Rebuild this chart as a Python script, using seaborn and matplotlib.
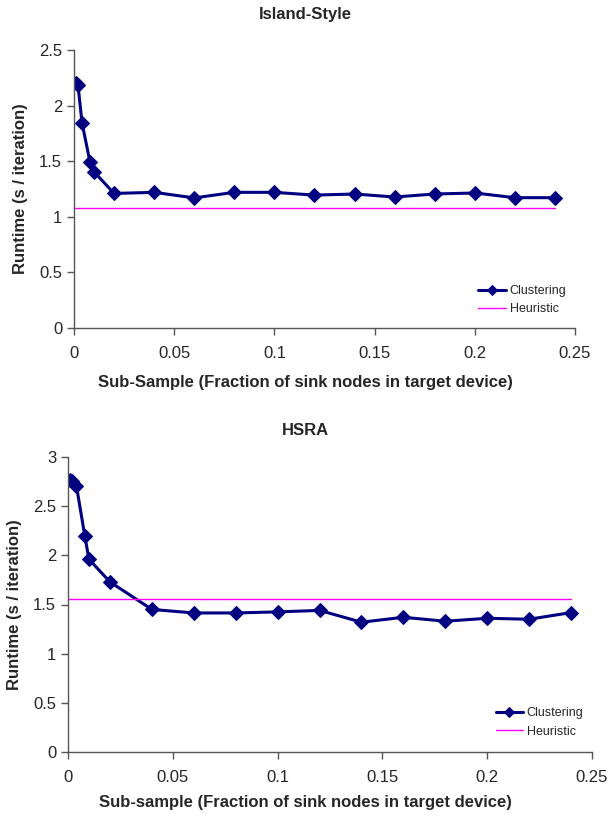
import numpy as np
import pandas as pd
import matplotlib
matplotlib.use("Agg")
import matplotlib.pyplot as plt
import seaborn as sns

sns.set_style("ticks")
plt.rcParams["font.family"] = ["Liberation Sans", "DejaVu Sans"]

# Island-Style data
island_x = [0.001, 0.002, 0.004, 0.008, 0.01, 0.02, 0.04, 0.06, 0.08, 0.10,
            0.12, 0.14, 0.16, 0.18, 0.20, 0.22, 0.24]
island_y = [2.20, 2.185, 1.845, 1.49, 1.405, 1.21, 1.22, 1.17, 1.22, 1.22,
            1.195, 1.205, 1.178, 1.205, 1.214, 1.172, 1.172]
island_heur = 1.082

# HSRA data
hsra_x = [0.001, 0.002, 0.004, 0.008, 0.01, 0.02, 0.04, 0.06, 0.08, 0.10,
          0.12, 0.14, 0.16, 0.18, 0.20, 0.22, 0.24]
hsra_y = [2.77, 2.76, 2.71, 2.20, 1.96, 1.73, 1.45, 1.414, 1.414, 1.425,
          1.44, 1.32, 1.37, 1.33, 1.36, 1.35, 1.418]
hsra_heur = 1.56

heur_x = [0.0, 0.24]

navy = "#000080"
magenta = "#FF00FF"

fig = plt.figure(figsize=(6.11, 8.18), dpi=100)
W, H = 611, 818

def add_ax(left, right, top, bottom):
    return fig.add_axes([left / W, 1 - bottom / H, (right - left) / W, (bottom - top) / H])

ax1 = add_ax(74, 575, 50, 328)
ax2 = add_ax(68, 592, 457, 752)

panels = [
    (ax1, island_x, island_y, island_heur, 2.5, 0.5,
     "Island-Style", "Sub-Sample (Fraction of sink nodes in target device)", 14, 383, (0.895, 0.10)),
    (ax2, hsra_x, hsra_y, hsra_heur, 3.0, 0.5,
     "HSRA", "Sub-sample (Fraction of sink nodes in target device)", 431, 803, (0.90, 0.10)),
]

for ax, xs, ys, heur, ymax, ystep, title, xlabel, ty, xy, lpos in panels:
    df = pd.DataFrame({"x": xs, "y": ys})
    sns.lineplot(data=df, x="x", y="y", ax=ax, color=navy, linewidth=2.2,
                 marker="D", markersize=7, markeredgecolor=navy, label="Clustering")
    hdf = pd.DataFrame({"x": heur_x, "y": [heur, heur]})
    sns.lineplot(data=hdf, x="x", y="y", ax=ax, color=magenta, linewidth=1.0,
                 label="Heuristic")
    ax.set_xlim(0, 0.25)
    ax.set_ylim(0, ymax)
    ax.set_xticks(np.arange(0, 0.2501, 0.05))
    ax.set_xticklabels(["0", "0.05", "0.1", "0.15", "0.2", "0.25"])
    ax.set_yticks(np.arange(0, ymax + 0.001, ystep))
    ax.set_yticklabels([f"{v:g}" for v in np.arange(0, ymax + 0.001, ystep)])
    ax.tick_params(axis="both", labelsize=12, length=5, width=1, color="#555555",
                   direction="out")
    ax.tick_params(axis="x", pad=8)
    for s in ["top", "right"]:
        ax.spines[s].set_visible(False)
    for s in ["left", "bottom"]:
        ax.spines[s].set_color("#555555")
        ax.spines[s].set_linewidth(1)
    ax.set_xlabel("")
    ax.set_ylabel("Runtime (s / iteration)", fontsize=12, fontweight="bold", labelpad=8)
    leg = ax.legend(loc="center", bbox_to_anchor=lpos, frameon=False, fontsize=9,
                    handlelength=2.2, labelspacing=0.5, handletextpad=0.3)
    # smaller diamond in legend, like the original
    leg.legend_handles[0].set_markersize(5)
    fig.text(0.5, 1 - ty / H, title, ha="center", va="center", fontsize=12, fontweight="bold")
    fig.text(0.5, 1 - xy / H, xlabel, ha="center", va="center", fontsize=12, fontweight="bold")

fig.savefig("out.png", dpi=100)
